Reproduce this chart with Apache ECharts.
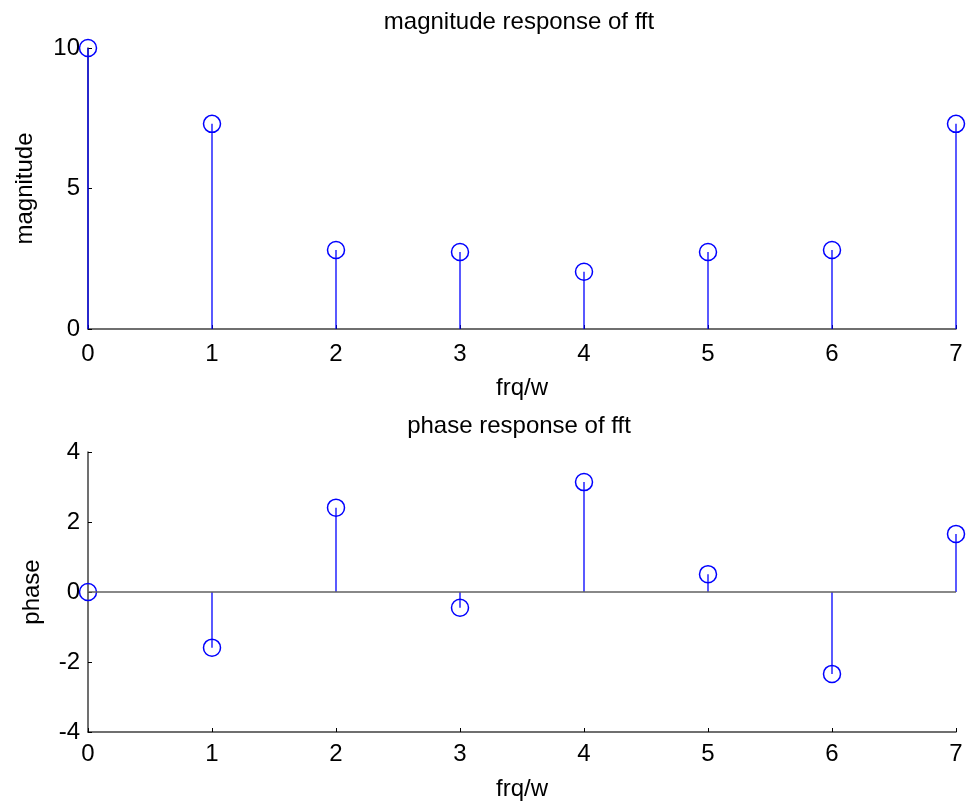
<!DOCTYPE html>
<html>
<head>
<meta charset="utf-8">
<script src="https://cdn.jsdelivr.net/npm/echarts@6/dist/echarts.min.js"></script>
<style>
html,body{margin:0;padding:0;background:#fff;}
#chart{width:967px;height:806px;}
</style>
</head>
<body>
<div id="chart"></div>
<script>
const freq = [0, 1, 2, 3, 4, 5, 6, 7];
const magnitude = [10, 7.30, 2.81, 2.74, 2.04, 2.74, 2.81, 7.30];
const phase = [0, -1.59, 2.41, -0.45, 3.14, 0.51, -2.34, 1.66];
const magTicks = [0, 5, 10];
const phaseTicks = [-4, -2, 0, 2, 4];

const FONT = 'Liberation Sans, Arial, sans-serif';
const FS = 24;
const AX = '#404040';
const BLUE = '#0000ff';

const magData = freq.map((f, i) => [f, magnitude[i]]);
const phaseData = freq.map((f, i) => [f, phase[i]]);

function stem(params, api) {
  const x = api.value(0), y = api.value(1);
  const p0 = api.coord([x, 0]);
  const p1 = api.coord([x, y]);
  return {type: 'line', shape: {x1: p0[0], y1: p0[1], x2: p1[0], y2: p1[1]},
          style: {stroke: BLUE, lineWidth: 1.3, opacity: 1}};
}

function xAxisOpt(gridIndex, labelMargin, nameGap) {
  return {
    type: 'value', gridIndex: gridIndex, min: 0, max: 7, interval: 1,
    name: 'frq/w', nameLocation: 'middle', nameGap: nameGap,
    nameTextStyle: {fontFamily: FONT, fontSize: FS, color: '#000'},
    axisLine: {show: true, onZero: false, lineStyle: {color: AX, width: 1.5}},
    axisTick: {show: true, inside: true, length: 4, lineStyle: {color: '#000'}},
    axisLabel: {fontFamily: FONT, fontSize: FS, color: '#000', margin: labelMargin},
    splitLine: {show: false}
  };
}

function yAxisOpt(gridIndex, name, ticks, gap) {
  return {
    type: 'value', gridIndex: gridIndex,
    min: ticks[0], max: ticks[ticks.length - 1], interval: ticks[1] - ticks[0],
    name: name, nameLocation: 'middle', nameGap: gap,
    nameTextStyle: {fontFamily: FONT, fontSize: FS, color: '#000'},
    axisLine: {show: true, onZero: false, lineStyle: {color: AX, width: 1.5}},
    axisTick: {show: true, inside: true, length: 4, lineStyle: {color: '#000'}},
    axisLabel: {fontFamily: FONT, fontSize: FS, color: '#000', margin: 8},
    splitLine: {show: false}
  };
}

const circleStyle = {color: 'rgba(0,0,0,0)', borderColor: BLUE, borderWidth: 1.5, opacity: 1};

const chart = echarts.init(document.getElementById('chart'), null, {renderer: 'canvas'});
chart.setOption({
  animation: false,
  backgroundColor: '#fff',
  title: [
    {text: 'magnitude response of fft', left: 514, top: 5, textAlign: 'center',
     textStyle: {fontFamily: FONT, fontSize: FS, fontWeight: 'normal', color: '#000'}},
    {text: 'phase response of fft', left: 514, top: 409, textAlign: 'center',
     textStyle: {fontFamily: FONT, fontSize: FS, fontWeight: 'normal', color: '#000'}}
  ],
  grid: [
    {left: 88, width: 868, top: 48, height: 281},
    {left: 88, width: 868, top: 452, height: 280}
  ],
  xAxis: [xAxisOpt(0, 13, 47), xAxisOpt(1, 10, 45)],
  yAxis: [yAxisOpt(0, 'magnitude', magTicks, 51), yAxisOpt(1, 'phase', phaseTicks, 44)],
  series: [
    {type: 'custom', xAxisIndex: 0, yAxisIndex: 0, data: magData, renderItem: stem, clip: false, z: 2},
    {type: 'scatter', xAxisIndex: 0, yAxisIndex: 0, data: magData, symbol: 'circle', symbolSize: 17,
     itemStyle: circleStyle, clip: false, z: 3},
    {type: 'custom', xAxisIndex: 1, yAxisIndex: 1, data: phaseData, renderItem: stem, clip: false, z: 2,
     markLine: {silent: true, symbol: 'none', label: {show: false},
                lineStyle: {color: '#606060', type: 'solid', width: 1.5},
                data: [{yAxis: 0}]}},
    {type: 'scatter', xAxisIndex: 1, yAxisIndex: 1, data: phaseData, symbol: 'circle', symbolSize: 17,
     itemStyle: circleStyle, clip: false, z: 3}
  ]
});
</script>
</body>
</html>
